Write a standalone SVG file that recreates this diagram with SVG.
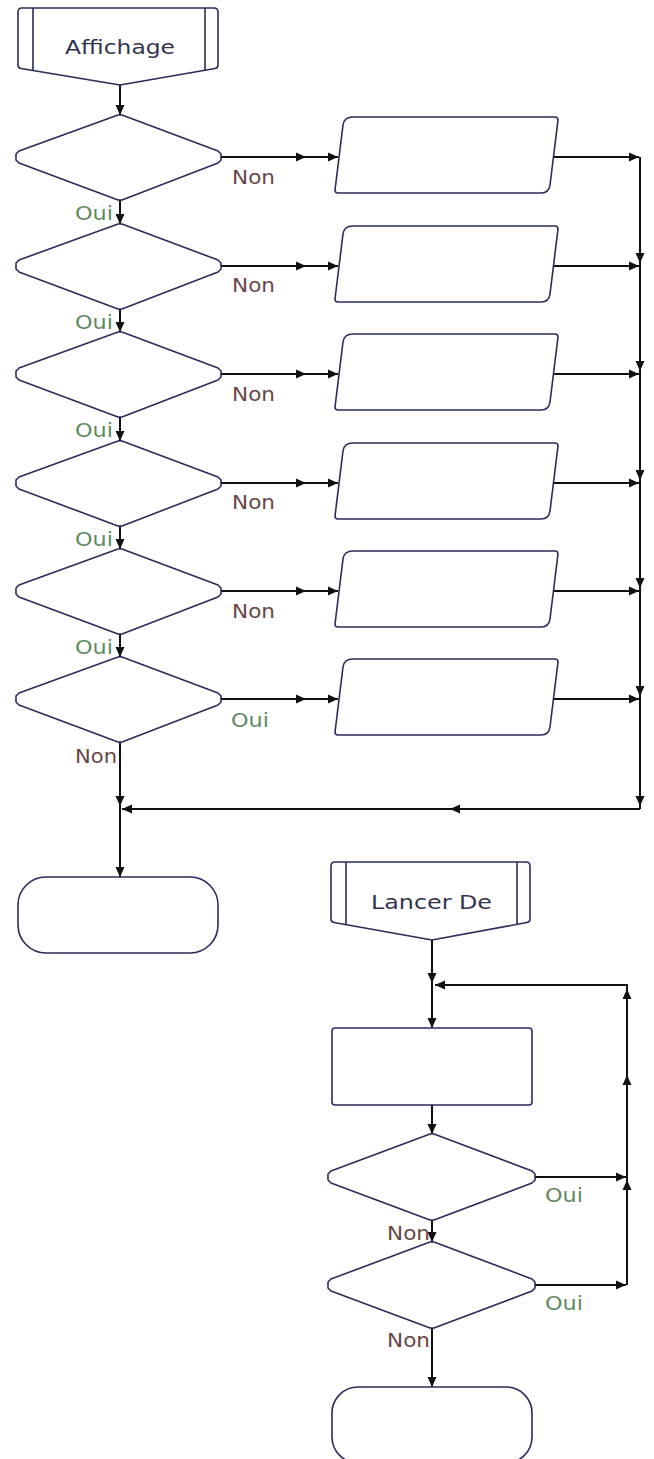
<svg xmlns="http://www.w3.org/2000/svg" width="654" height="1459" viewBox="0 0 654 1459">
<style>
.shape{fill:#fff;stroke:#2b2b5c;stroke-width:1.6;stroke-linejoin:round}
.conn{fill:none;stroke:#111;stroke-width:2}
.a{marker-end:url(#ah)}
.am{marker-mid:url(#ah);marker-end:url(#ah)}
text{font-family:"DejaVu Sans","Verdana",sans-serif;font-size:19px}
.title{fill:#333350}
.non{fill:#6a4545}
.oui{fill:#5f8a5f}
</style>
<defs>
<marker id="ah" viewBox="0 0 10 10" refX="10" refY="5" markerWidth="10" markerHeight="10" markerUnits="userSpaceOnUse" orient="auto">
<path d="M0,0.5 L10,5 L0,9.5 z" fill="#111"/>
</marker>
</defs>
<rect width="654" height="1459" fill="#fff"/>

<g id="connectors">
<polyline class="conn a" points="120,85 120,115"/>
<polyline class="conn a" points="120,200 120,224"/>
<polyline class="conn a" points="120,309 120,332"/>
<polyline class="conn a" points="120,417 120,441"/>
<polyline class="conn a" points="120,526 120,549"/>
<polyline class="conn a" points="120,634 120,657"/>
<polyline class="conn am" points="221,157 306,157 338,157"/>
<polyline class="conn am" points="221,266 306,266 338,266"/>
<polyline class="conn am" points="221,374 306,374 338,374"/>
<polyline class="conn am" points="221,483 306,483 338,483"/>
<polyline class="conn am" points="221,591 306,591 338,591"/>
<polyline class="conn am" points="221,699 306,699 338,699"/>
<polyline class="conn a" points="553,157 639,157"/>
<polyline class="conn a" points="553,266 639,266"/>
<polyline class="conn a" points="553,374 639,374"/>
<polyline class="conn a" points="553,483 639,483"/>
<polyline class="conn a" points="553,591 639,591"/>
<polyline class="conn a" points="553,699 639,699"/>
<polyline class="conn am" points="640,157 640,263 640,371 640,480 640,588 640,696 640,806"/>
<polyline class="conn" points="640,806 640,809"/>
<polyline class="conn am" points="640,809 450,809 122,809"/>
<polyline class="conn am" points="120,742 120,806 120,877"/>
<polyline class="conn am" points="432,940 432,983 432,1028"/>
<polyline class="conn a" points="432,1105 432,1134"/>
<polyline class="conn a" points="432,1220 432,1242"/>
<polyline class="conn a" points="432,1328 432,1387"/>
<polyline class="conn a" points="535,1177 626,1177"/>
<polyline class="conn a" points="535,1285 626,1285"/>
<polyline class="conn am" points="627,1285 627,1180 627,1075 627,989"/>
<polyline class="conn a" points="627,989 627,985 435,985"/>
</g>

<g id="affichage">
<path class="shape" d="M22,8 L214,8 Q218,8 218,12 L218,65 Q218,68 215,68.5 L120,85 L21,68.5 Q18,68 18,65 L18,12 Q18,8 22,8 Z"/>
<line class="shape" x1="33" y1="8" x2="33" y2="71"/>
<line class="shape" x1="205" y1="8" x2="205" y2="71"/>
<text class="title" x="65" y="54" textLength="110" lengthAdjust="spacingAndGlyphs">Affichage</text>
</g>

<g id="d1"><polygon class="shape" points="118,115 122,115 218,151 221,154 221,160 218,163 122,200 118,200 19,163 16,160 16,154 19,151"/></g>
<g id="d2"><polygon class="shape" points="118,224 122,224 218,260 221,263 221,269 218,272 122,309 118,309 19,272 16,269 16,263 19,260"/></g>
<g id="d3"><polygon class="shape" points="118,332 122,332 218,368 221,371 221,377 218,380 122,417 118,417 19,380 16,377 16,371 19,368"/></g>
<g id="d4"><polygon class="shape" points="118,441 122,441 218,477 221,480 221,486 218,489 122,526 118,526 19,489 16,486 16,480 19,477"/></g>
<g id="d5"><polygon class="shape" points="118,549 122,549 218,585 221,588 221,594 218,597 122,634 118,634 19,597 16,594 16,588 19,585"/></g>
<g id="d6"><polygon class="shape" points="118,657 122,657 218,693 221,696 221,702 218,705 122,742 118,742 19,705 16,702 16,696 19,693"/></g>

<g id="p1"><path class="shape" d="M353,117 L555,117 Q558,117 558,120 L550,185 Q549,193 541,193 L338,193 Q335,193 335,190 L343,125 Q344,117 353,117 Z"/></g>
<g id="p2"><path class="shape" d="M353,226 L555,226 Q558,226 558,229 L550,294 Q549,302 541,302 L338,302 Q335,302 335,299 L343,234 Q344,226 353,226 Z"/></g>
<g id="p3"><path class="shape" d="M353,334 L555,334 Q558,334 558,337 L550,402 Q549,410 541,410 L338,410 Q335,410 335,407 L343,342 Q344,334 353,334 Z"/></g>
<g id="p4"><path class="shape" d="M353,443 L555,443 Q558,443 558,446 L550,511 Q549,519 541,519 L338,519 Q335,519 335,516 L343,451 Q344,443 353,443 Z"/></g>
<g id="p5"><path class="shape" d="M353,551 L555,551 Q558,551 558,554 L550,619 Q549,627 541,627 L338,627 Q335,627 335,624 L343,559 Q344,551 353,551 Z"/></g>
<g id="p6"><path class="shape" d="M353,659 L555,659 Q558,659 558,662 L550,727 Q549,735 541,735 L338,735 Q335,735 335,732 L343,667 Q344,659 353,659 Z"/></g>

<g id="labels-left">
<text class="non" x="232" y="184" textLength="43" lengthAdjust="spacingAndGlyphs">Non</text>
<text class="non" x="232" y="292" textLength="43" lengthAdjust="spacingAndGlyphs">Non</text>
<text class="non" x="232" y="401" textLength="43" lengthAdjust="spacingAndGlyphs">Non</text>
<text class="non" x="232" y="509" textLength="43" lengthAdjust="spacingAndGlyphs">Non</text>
<text class="non" x="232" y="618" textLength="43" lengthAdjust="spacingAndGlyphs">Non</text>
<text class="oui" x="231" y="727" textLength="38" lengthAdjust="spacingAndGlyphs">Oui</text>
<text class="oui" x="75" y="220" textLength="38" lengthAdjust="spacingAndGlyphs">Oui</text>
<text class="oui" x="75" y="329" textLength="38" lengthAdjust="spacingAndGlyphs">Oui</text>
<text class="oui" x="75" y="437" textLength="38" lengthAdjust="spacingAndGlyphs">Oui</text>
<text class="oui" x="75" y="546" textLength="38" lengthAdjust="spacingAndGlyphs">Oui</text>
<text class="oui" x="75" y="654" textLength="38" lengthAdjust="spacingAndGlyphs">Oui</text>
<text class="non" x="75" y="763" textLength="42" lengthAdjust="spacingAndGlyphs">Non</text>
</g>

<g id="end1"><rect class="shape" x="18" y="877" width="200" height="76" rx="28" ry="28"/></g>

<g id="lancer">
<path class="shape" d="M335,862 L526,862 Q530,862 530,866 L530,919 Q530,922 527,922.5 L432,940 L334,922.5 Q331,922 331,919 L331,866 Q331,862 335,862 Z"/>
<line class="shape" x1="346" y1="862" x2="346" y2="925"/>
<line class="shape" x1="517" y1="862" x2="517" y2="925"/>
<text class="title" x="371" y="909" textLength="121" lengthAdjust="spacingAndGlyphs">Lancer De</text>
</g>

<g id="proc"><rect class="shape" x="332" y="1028" width="200" height="77" rx="3" ry="3"/></g>
<g id="l1"><polygon class="shape" points="430,1134 434,1134 532,1171 535,1174 535,1180 532,1183 434,1220 430,1220 331,1183 328,1180 328,1174 331,1171"/></g>
<g id="l2"><polygon class="shape" points="430,1242 434,1242 532,1279 535,1282 535,1288 532,1291 434,1328 430,1328 331,1291 328,1288 328,1282 331,1279"/></g>
<g id="end2"><rect class="shape" x="332" y="1387" width="200" height="76" rx="26" ry="26"/></g>

<g id="labels-right">
<text class="oui" x="545" y="1202" textLength="38" lengthAdjust="spacingAndGlyphs">Oui</text>
<text class="non" x="387" y="1240" textLength="43" lengthAdjust="spacingAndGlyphs">Non</text>
<text class="oui" x="545" y="1310" textLength="38" lengthAdjust="spacingAndGlyphs">Oui</text>
<text class="non" x="387" y="1347" textLength="43" lengthAdjust="spacingAndGlyphs">Non</text>
</g>
</svg>
